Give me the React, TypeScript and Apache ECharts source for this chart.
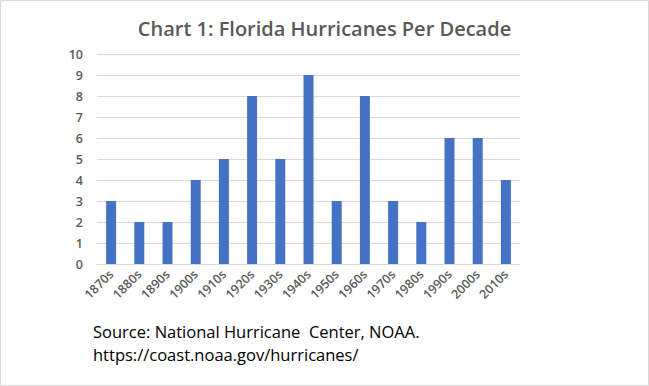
import React, { useEffect, useRef } from "react";
import * as echarts from "echarts";

const categories = ["1870s","1880s","1890s","1900s","1910s","1920s","1930s","1940s","1950s","1960s","1970s","1980s","1990s","2000s","2010s"];
const hurricanes = [3,2,2,4,5,8,5,9,3,8,3,2,6,6,4];
const titleText = "Chart 1: Florida Hurricanes Per Decade";
const sourceLine1 = "Source: National Hurricane  Center, NOAA.";
const sourceLine2 = "https://coast.noaa.gov/hurricanes/";

export default function App() {
  const ref = useRef<HTMLDivElement>(null);
  useEffect(() => {
    document.body.style.margin = "0";
    const chart = echarts.init(ref.current!, null, { renderer: "svg" });
    chart.setOption({
      animation: false,
      backgroundColor: "#ffffff",
      title: {
        text: titleText,
        left: "center",
        top: 13,
        textStyle: { fontFamily: "Open Sans", fontSize: 20, fontWeight: 600, color: "#595959" },
      },
      grid: { left: 97, right: 129, top: 54, bottom: 122 },
      xAxis: {
        type: "category",
        data: categories,
        axisTick: { show: false },
        axisLine: { lineStyle: { color: "#d9d9d9" } },
        axisLabel: { rotate: 45, color: "#595959", fontFamily: "Open Sans", fontSize: 12.5, fontWeight: 600, margin: 8, interval: 0 },
      },
      yAxis: {
        type: "value",
        min: 0,
        max: 10,
        interval: 1,
        axisLine: { show: false },
        axisTick: { show: false },
        splitLine: { lineStyle: { color: "#d9d9d9" } },
        axisLabel: { color: "#595959", fontFamily: "Open Sans", fontSize: 12.5, fontWeight: 600, margin: 14 },
      },
      series: [
        {
          type: "bar",
          data: hurricanes,
          barWidth: 10,
          itemStyle: { color: "#4472C4" },
        },
      ],
      graphic: [
        { type: "rect", shape: { x: 0.5, y: 0.5, width: 648, height: 385 }, style: { fill: "none", stroke: "#d9d9d9", lineWidth: 1 } },
        { type: "text", left: 93, top: 323, style: { text: sourceLine1, fontFamily: "Open Sans", fontSize: 16.5, fill: "#000000" } },
        { type: "text", left: 93, top: 346, style: { text: sourceLine2, fontFamily: "Open Sans", fontSize: 16.5, fill: "#000000" } },
      ],
    });
    return () => chart.dispose();
  }, []);
  return <div ref={ref} style={{ position: "absolute", left: 0, top: 0, width: 649, height: 386 }} />;
}
